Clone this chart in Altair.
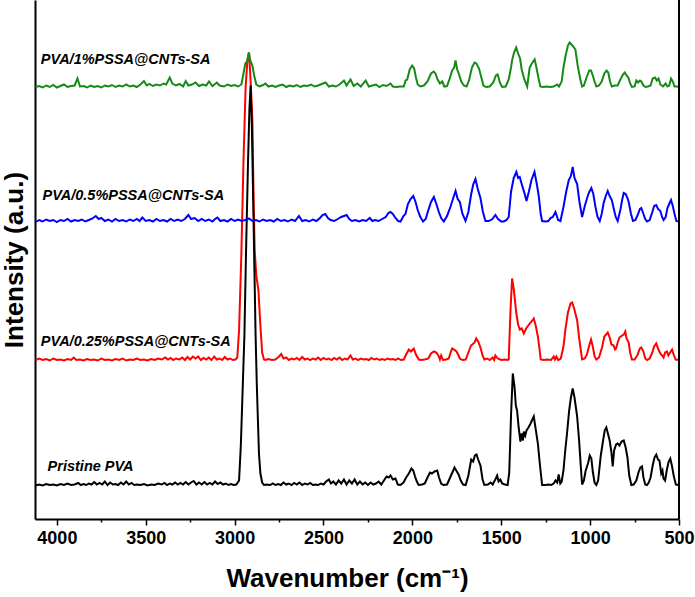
import altair as alt
import pandas as pd

FONT = "Liberation Sans"

series_names = ["Pristine PVA", "PVA/0.25%PSSA@CNTs-SA", "PVA/0.5%PSSA@CNTs-SA", "PVA/1%PSSA@CNTs-SA"]
series_colors = ["#000000", "#FF0000", "#0000FF", "#168A16"]
series_offsets = [33.5, 158.5, 297.0, 431.5]
label_wn = [4052, 4090, 4081, 4090]
label_y = [48.3, 173, 319, 455]
x_ticks = list(range(500, 4001, 250))

# (wavenumber, intensity above own baseline)
spec_black = [
    (4120, 0), (4100, 1), (4080, 0), (4060, 1.5), (4040, 0.5), (4020, 1), (4000, 0), (3980, 1.5), (3960, 0.5),
    (3940, 2), (3920, 0.5), (3900, 1), (3880, 2.5), (3865, 0.5), (3850, 1.5), (3835, 0.5), (3820, 2), (3805, 1),
    (3790, 3.5), (3775, 1), (3760, 2.5), (3745, 1), (3730, 4), (3715, 0.5), (3700, 3), (3685, 1), (3670, 1.5),
    (3655, 0.5), (3640, 3), (3625, 1), (3610, 4), (3595, 1), (3580, 2.5), (3565, 0.5), (3550, 1), (3530, 0.5),
    (3510, 1.5), (3490, 0), (3470, 1), (3450, 0.5), (3430, 2), (3410, 1), (3395, 2.5), (3380, 0.5), (3365, 2),
    (3350, 1), (3335, 3), (3320, 1), (3305, 2.5), (3290, 1), (3275, 3.5), (3260, 1), (3245, 3), (3230, 4.5),
    (3215, 1), (3200, 3), (3185, 1), (3170, 3.5), (3155, 1), (3140, 2.5), (3125, 1), (3110, 4), (3095, 1.5),
    (3080, 3), (3065, 1), (3050, 2), (3035, 0.5), (3020, 1.5), (3005, 0.5), (2990, 1),
    (2975, 5), (2965, 40), (2955, 95), (2945, 150), (2935, 240), (2925, 320), (2917, 375), (2910, 400),
    (2903, 360), (2895, 280), (2888, 210), (2882, 150), (2875, 100), (2868, 60), (2863, 32), (2855, 12),
    (2845, 3), (2835, 0.5),
    (2820, 1), (2800, 0.5), (2785, 2), (2770, 0.5), (2755, 1.5), (2740, 0.5), (2725, 3), (2710, 1), (2695, 2),
    (2680, 0.5), (2665, 2.5), (2650, 1), (2635, 3), (2620, 0.5), (2605, 2), (2590, 1), (2575, 2.5), (2560, 0.5),
    (2545, 1), (2530, 0.5), (2515, 2), (2500, 1), (2485, 4), (2470, 6), (2458, 2), (2445, 4), (2430, 1),
    (2415, 5), (2400, 2), (2385, 6), (2370, 1), (2355, 5), (2340, 2), (2325, 6), (2310, 1), (2295, 4),
    (2280, 1), (2265, 3), (2250, 0.5), (2235, 3), (2220, 1), (2205, 2), (2190, 4), (2175, 1), (2160, 5),
    (2145, 9), (2133, 8), (2123, 10), (2110, 6), (2095, 7), (2082, 1), (2067, 0.5), (2050, 3), (2035, 8),
    (2020, 12), (2005, 17), (1995, 15), (1985, 9), (1975, 4), (1965, 0.5), (1945, 1), (1930, 2), (1915, 8),
    (1901, 13), (1890, 12), (1875, 14), (1860, 15), (1850, 8), (1838, 2), (1825, 0.5), (1805, 1), (1790, 7),
    (1775, 13), (1763, 18), (1750, 14), (1740, 11), (1728, 5), (1715, 1), (1700, 0.5), (1685, 10), (1669, 26),
    (1658, 24), (1648, 30), (1639, 31), (1630, 26), (1617, 20), (1605, 6), (1595, 0.5), (1575, 1), (1560, 3),
    (1548, 1), (1540, 4), (1533, 6), (1523, 10), (1515, 4), (1505, 6), (1495, 2), (1480, 1), (1464, 0.5),
    (1455, 13), (1445, 70), (1435, 112), (1425, 98), (1418, 80), (1411, 75), (1402, 58), (1392, 44),
    (1385, 52), (1378, 45), (1373, 54), (1365, 50), (1358, 55), (1347, 58), (1335, 62), (1325, 66), (1317, 69),
    (1305, 55), (1294, 42), (1282, 20), (1270, 0.5), (1250, 0.5), (1235, 1), (1220, 0.5), (1205, 2), (1195, 5),
    (1185, 3), (1177, 11), (1168, 2), (1160, 4), (1150, 15), (1140, 35), (1130, 52), (1118, 75), (1108, 88),
    (1098, 97), (1088, 88), (1080, 78), (1073, 69), (1062, 45), (1052, 18), (1045, 1), (1035, 5), (1025, 15),
    (1012, 22), (1002, 30), (993, 27), (985, 14), (975, 3), (965, 0.5), (955, 5), (940, 30), (927, 45),
    (918, 55), (909, 58), (900, 52), (890, 45), (880, 33), (873, 19), (865, 35), (854, 41), (845, 42),
    (835, 40), (823, 44), (811, 45), (800, 38), (790, 28), (780, 10), (768, 0.5), (755, 1), (740, 5),
    (728, 13), (717, 18), (708, 19), (700, 8), (690, 1), (680, 0.5), (670, 3), (660, 8), (648, 20), (638, 28),
    (628, 31), (618, 26), (610, 25), (600, 12), (593, 15), (587, 7), (578, 5), (568, 16), (558, 24), (549, 27),
    (540, 20), (530, 10), (518, 1), (505, 0.5),
]

spec_red = [
    (4120, 0.5), (4100, 2), (4080, 0.5), (4060, 1.5), (4040, 0), (4020, 2), (4000, 0.5), (3980, 1), (3960, 0),
    (3940, 1.5), (3920, 0.5), (3905, 3), (3890, 0.5), (3870, 1), (3850, 0), (3830, 1.5), (3810, 0.5), (3790, 1),
    (3770, 0), (3750, 2), (3730, 0.5), (3710, 1), (3690, 0), (3670, 1.5), (3650, 0.5), (3630, 2), (3610, 0),
    (3590, 1), (3570, 0.5), (3550, 2), (3530, 0.5), (3510, 1), (3490, 0), (3470, 1.5), (3450, 0.5), (3430, 2),
    (3410, 1), (3390, 3), (3375, 1), (3360, 2.5), (3345, 0.5), (3330, 2), (3310, 1), (3295, 3), (3280, 0.5),
    (3265, 3.5), (3250, 1), (3235, 4), (3220, 2), (3205, 4), (3190, 0.5), (3175, 2.5), (3160, 1), (3145, 3),
    (3130, 0.5), (3115, 4), (3100, 1), (3085, 2), (3070, 0.5), (3055, 3.5), (3040, 1), (3025, 2), (3010, 0.5),
    (2995, 1), (2985, 3),
    (2975, 30), (2962, 107), (2950, 200), (2938, 274), (2928, 300), (2919, 308), (2910, 280), (2900, 240),
    (2893, 160), (2887, 110), (2878, 85), (2866, 70), (2855, 35), (2845, 8), (2835, 1),
    (2826, 0.5), (2810, 1.5), (2790, 0.5), (2770, 1), (2750, 4), (2738, 6.5), (2725, 2), (2710, 3), (2695, 0.5),
    (2680, 2), (2665, 1), (2650, 2.5), (2635, 0.5), (2620, 3.5), (2605, 1), (2590, 2), (2575, 0.5), (2560, 2),
    (2545, 1), (2530, 3), (2515, 0.5), (2500, 2.5), (2485, 1), (2470, 2), (2455, 0.5), (2440, 2.5), (2425, 1),
    (2410, 3), (2395, 0.5), (2380, 2), (2365, 1), (2348, 5), (2335, 1), (2320, 2), (2305, 0.5), (2290, 2),
    (2275, 1), (2260, 1.5), (2245, 0.5), (2230, 2.5), (2215, 1), (2200, 2), (2185, 0.5), (2170, 1.5),
    (2155, 0.5), (2140, 2), (2125, 1), (2110, 1.5), (2095, 0.5), (2080, 2), (2065, 0.5), (2048, 1), (2035, 6),
    (2020, 11), (2008, 9), (1992, 12), (1980, 6), (1964, 1), (1950, 0.5), (1930, 1), (1910, 2), (1895, 7),
    (1879, 9), (1865, 8), (1851, 4), (1845, 1), (1838, 5), (1828, 0.5), (1810, 1), (1795, 2), (1785, 8),
    (1776, 12), (1765, 11), (1752, 9), (1740, 5), (1733, 2), (1718, 0.5), (1700, 1), (1685, 8), (1670, 15),
    (1663, 16), (1650, 18), (1641, 22), (1630, 19), (1617, 13), (1605, 5), (1595, 1), (1580, 2), (1565, 0.5),
    (1548, 3), (1540, 0.5), (1533, 5), (1520, 2), (1500, 0.5), (1480, 1), (1465, 0.5), (1458, 1), (1448, 50),
    (1439, 82), (1430, 72), (1415, 47), (1405, 36), (1396, 31), (1385, 32), (1373, 27), (1360, 32), (1340, 37),
    (1325, 40), (1317, 42), (1305, 34), (1294, 24), (1285, 12), (1278, 1), (1260, 0.5), (1240, 1), (1220, 0.5),
    (1205, 4), (1198, 1), (1190, 4), (1180, 0.5), (1165, 2), (1150, 14), (1139, 31), (1125, 48), (1110, 57),
    (1101, 58), (1090, 52), (1073, 40), (1060, 20), (1045, 1), (1030, 2), (1018, 6), (1005, 15), (995, 21),
    (985, 14), (975, 4), (965, 1), (950, 3), (933, 13), (920, 24), (910, 26), (901, 28), (890, 23), (880, 16),
    (868, 15), (860, 11), (854, 12), (845, 18), (835, 23), (820, 25), (810, 26), (802, 29), (795, 22),
    (783, 18), (775, 8), (765, 1), (750, 1), (735, 5), (720, 12), (712, 13), (700, 9), (690, 2), (680, 0.5),
    (665, 2), (650, 8), (640, 14), (628, 17), (618, 12), (605, 7), (595, 5), (587, 3), (578, 8), (568, 9),
    (560, 5), (550, 8), (539, 11), (530, 6), (519, 1), (500, 0.5),
]

spec_blue = [
    (4120, 0), (4100, 2), (4080, 0.5), (4060, 2.5), (4040, 1), (4020, 2), (4000, 0), (3980, 2), (3960, 1),
    (3940, 3), (3920, 0.5), (3900, 2), (3880, 1), (3860, 2.5), (3840, 0.5), (3820, 2), (3800, 3.5), (3781, 6),
    (3765, 3), (3750, 4), (3730, 1), (3710, 2.5), (3690, 0.5), (3670, 3), (3650, 1), (3630, 2), (3610, 0.5),
    (3590, 2.5), (3570, 1), (3550, 3), (3535, 1), (3519, 4.5), (3500, 1), (3480, 2), (3460, 0.5), (3440, 3),
    (3420, 1), (3400, 2), (3380, 0.5), (3360, 3), (3340, 1), (3320, 2.5), (3300, 1), (3280, 3), (3260, 7),
    (3245, 3), (3225, 4), (3205, 1), (3185, 3), (3165, 1), (3145, 2.5), (3125, 0.5), (3110, 3), (3097, 4.5),
    (3080, 1), (3060, 2), (3040, 0.5), (3020, 3), (3000, 1), (2980, 2.5), (2960, 1), (2940, 2), (2920, 3.5),
    (2900, 1), (2880, 2), (2860, 0.5), (2840, 2.5), (2820, 1), (2800, 2), (2780, 0.5), (2760, 3), (2740, 1),
    (2720, 2), (2700, 0.5), (2680, 2.5), (2660, 1), (2638, 6), (2620, 1), (2600, 2), (2580, 0.5), (2560, 2.5),
    (2540, 1), (2520, 4), (2505, 7), (2490, 8), (2475, 4), (2460, 2), (2440, 1), (2420, 3), (2400, 5),
    (2385, 6), (2370, 7), (2355, 3), (2340, 1), (2320, 2), (2300, 0.5), (2280, 2), (2260, 1), (2240, 4),
    (2225, 1), (2210, 2), (2190, 1), (2170, 3), (2150, 5), (2135, 9), (2123, 10), (2110, 8), (2095, 4),
    (2080, 1), (2067, 0.5), (2050, 6), (2039, 8), (2025, 18), (2010, 23), (1995, 26), (1982, 20), (1970, 12),
    (1955, 5), (1940, 0.5), (1925, 3), (1910, 12), (1895, 20), (1879, 25), (1865, 18), (1851, 10), (1838, 4),
    (1823, 0.5), (1805, 6), (1786, 15), (1770, 24), (1757, 31), (1745, 23), (1733, 20), (1718, 8), (1701, 1),
    (1685, 10), (1669, 28), (1657, 38), (1645, 43), (1632, 33), (1617, 24), (1603, 10), (1589, 1), (1570, 1),
    (1550, 3), (1533, 7), (1518, 3), (1500, 0.5), (1486, 0.5), (1470, 2), (1458, 5), (1445, 30), (1430, 44),
    (1415, 50), (1405, 44), (1396, 45), (1380, 35), (1368, 28), (1358, 21), (1345, 30), (1330, 42), (1313, 50),
    (1300, 38), (1289, 26), (1278, 8), (1270, 1), (1250, 0.5), (1235, 1), (1223, 4), (1210, 5), (1195, 10),
    (1180, 2), (1167, 1), (1150, 15), (1135, 30), (1120, 42), (1108, 46), (1098, 55), (1088, 44), (1073, 38),
    (1060, 20), (1045, 5), (1030, 16), (1017, 24), (1005, 30), (993, 34), (982, 28), (970, 15), (958, 5),
    (946, 1), (935, 8), (924, 19), (912, 26), (901, 31), (890, 26), (878, 22), (868, 14), (856, 5), (845, 1),
    (830, 12), (820, 22), (811, 29), (800, 28), (790, 24), (783, 20), (770, 8), (759, 1), (745, 2), (730, 8),
    (720, 13), (712, 14), (700, 8), (690, 3), (680, 0.5), (665, 2), (650, 10), (640, 16), (628, 17), (618, 13),
    (605, 11), (595, 5), (587, 2), (575, 5), (565, 14), (553, 19), (545, 22), (535, 16), (525, 8), (515, 1),
    (500, 0.5),
]

spec_green = [
    (4120, 0.5), (4100, 1.5), (4080, 0), (4060, 2), (4040, 0.5), (4020, 2.5), (4000, 0), (3980, 1.5), (3960, 3),
    (3940, 0.5), (3920, 1.5), (3900, 2), (3884, 9), (3870, 1), (3850, 1.5), (3830, 0), (3810, 2), (3790, 0.5),
    (3770, 1.5), (3750, 0), (3730, 2), (3710, 1), (3690, 2.5), (3670, 0.5), (3650, 2), (3630, 1), (3610, 3),
    (3590, 1), (3570, 2), (3550, 0.5), (3530, 3), (3510, 6.5), (3495, 2), (3480, 3.5), (3460, 1.5), (3440, 3),
    (3420, 2), (3400, 4), (3385, 3), (3365, 10), (3350, 4), (3330, 2), (3310, 3.5), (3290, 1), (3275, 6.5),
    (3260, 2), (3240, 3), (3220, 5), (3200, 1.5), (3180, 3), (3160, 2), (3144, 6), (3125, 1.5), (3100, 5),
    (3085, 2), (3060, 1), (3040, 3), (3020, 1.5), (3000, 2.5), (2980, 1), (2962, 3),
    (2950, 14), (2940, 24), (2930, 26), (2920, 35), (2912, 27), (2900, 22), (2890, 12), (2878, 3),
    (2860, 1), (2840, 2.5), (2826, 4), (2810, 1), (2790, 2), (2770, 0.5), (2750, 2), (2730, 3), (2710, 0.5),
    (2690, 2), (2670, 1), (2650, 2.5), (2630, 0.5), (2610, 2), (2590, 1.5), (2570, 3), (2550, 1), (2530, 2),
    (2510, 3.5), (2488, 5), (2470, 1), (2450, 2), (2430, 1), (2410, 3), (2385, 7), (2370, 2), (2348, 8),
    (2330, 1.5), (2310, 4), (2290, 1), (2263, 7), (2245, 1), (2225, 2), (2205, 3), (2185, 0.5), (2165, 2.5),
    (2145, 1.5), (2123, 4), (2110, 1), (2090, 0.5), (2070, 1), (2048, 1), (2038, 7), (2029, 8), (2015, 18),
    (2001, 22), (1990, 19), (1980, 10), (1970, 3), (1955, 1), (1935, 2), (1915, 6), (1895, 14), (1880, 16),
    (1870, 14), (1858, 8), (1845, 4), (1832, 6), (1820, 1), (1805, 1.5), (1790, 9), (1776, 17), (1765, 20),
    (1757, 27), (1748, 18), (1739, 14), (1725, 6), (1710, 2), (1695, 1), (1680, 8), (1665, 20), (1650, 25),
    (1640, 24), (1625, 19), (1612, 10), (1600, 2), (1585, 0.5), (1565, 1), (1545, 5), (1530, 12), (1520, 13),
    (1508, 5), (1495, 0.5), (1475, 1), (1458, 8), (1445, 20), (1439, 27), (1428, 35), (1416, 40), (1405, 34),
    (1394, 29), (1385, 18), (1370, 8), (1354, 1), (1340, 20), (1328, 24), (1312, 28), (1302, 20), (1290, 9),
    (1280, 1), (1265, 0.5), (1245, 1), (1225, 0.5), (1205, 1), (1186, 3), (1175, 1), (1160, 6), (1150, 20),
    (1139, 31), (1125, 42), (1115, 45), (1105, 43), (1095, 41), (1083, 38), (1070, 22), (1055, 8), (1045, 1),
    (1035, 2), (1020, 10), (1005, 17), (995, 17), (985, 12), (975, 6), (965, 1), (950, 2), (935, 6), (920, 14),
    (908, 17), (898, 15), (888, 6), (878, 1), (862, 2), (845, 2), (830, 8), (815, 13), (805, 15), (795, 12),
    (785, 10), (775, 4), (765, 0.5), (750, 1), (740, 7), (730, 5), (720, 7), (712, 6), (700, 2), (688, 0.5),
    (675, 1), (660, 2), (648, 9), (635, 10), (625, 7), (615, 9), (605, 3), (590, 1), (575, 4), (565, 1),
    (555, 2), (545, 9), (535, 6), (525, 1), (510, 1), (500, 0.5),
]

spectra = [spec_black, spec_red, spec_blue, spec_green]

rows = []
for name, off, spec in zip(series_names, series_offsets, spectra):
    for wn, val in spec:
        rows.append({"series": name, "wn": wn, "y": val + off})
df = pd.DataFrame(rows)

labels_df = pd.DataFrame({"series": series_names, "wn": label_wn, "y": label_y})

W, H = 644, 519

x_enc = alt.X(
    "wn:Q",
    scale=alt.Scale(domain=[500, 4123], reverse=True, nice=False, zero=False),
    axis=alt.Axis(
        values=x_ticks,
        format="d",
        labelExpr="datum.value % 500 === 0 ? datum.label : ''",
        tickSize={"condition": {"test": "datum.value % 500 === 0", "value": 6}, "value": 3},
        tickWidth=1.5,
        tickColor="black",
        labelFlush=False,
        labelFont=FONT,
        labelFontSize=18,
        labelFontWeight="bold",
        labelColor="black",
        labelPadding=4,
        domainColor="black",
        domainWidth=2,
        grid=False,
        title="Wavenumber (cm⁻¹)",
        titleFont=FONT,
        titleFontSize=26,
        titleFontWeight="bold",
        titleColor="black",
        titleBaseline="alphabetic",
        titleX=312,
        titleY=67,
    ),
)
y_enc = alt.Y(
    "y:Q",
    scale=alt.Scale(domain=[0, H], nice=False, zero=False),
    axis=alt.Axis(
        ticks=False,
        labels=False,
        grid=False,
        domainColor="black",
        domainWidth=2,
        title="Intensity (a.u.)",
        titleFont=FONT,
        titleFontSize=26,
        titleFontWeight="bold",
        titleColor="black",
        titlePadding=8,
    ),
)

draw_order = [1, 0, 2, 3]
line_layers = []
for i in draw_order:
    line_layers.append(
        alt.Chart(df)
        .transform_filter(alt.datum.series == series_names[i])
        .mark_line(color=series_colors[i], strokeWidth=2, interpolate="linear")
        .encode(x=x_enc, y=y_enc, order="wn:Q")
    )

text_layer = alt.Chart(labels_df).mark_text(
    align="left", baseline="alphabetic", font=FONT, fontSize=14.5,
    fontStyle="italic", fontWeight="bold", color="black",
).encode(x=x_enc, y=y_enc, text="series:N")

right_border = alt.Chart(labels_df).mark_rule(color="black", strokeWidth=2).encode(
    x=alt.value(W), y=alt.value(0), y2=alt.value(H)
)

chart = alt.layer(*line_layers, text_layer, right_border).properties(
    width=W, height=H,
    autosize=alt.AutoSizeParams(type="none"),
    padding={"left": 35, "top": 0, "right": 16, "bottom": 78},
    background="white",
).configure_view(stroke=None)

chart.save("out.html", embed_options={"renderer": "svg", "actions": False})
